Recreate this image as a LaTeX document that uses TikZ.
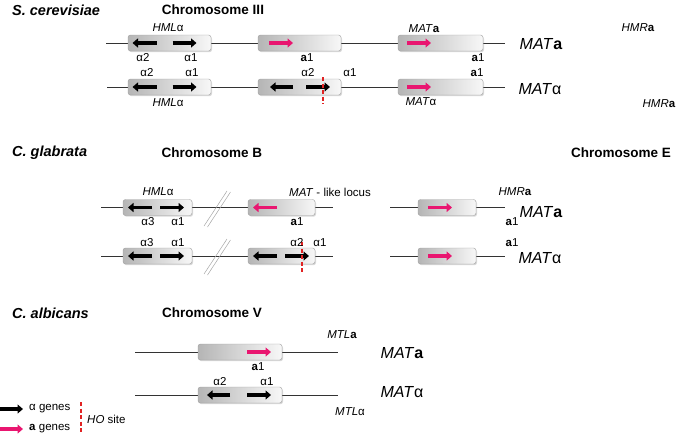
\documentclass[tikz,border=0pt]{standalone}
\usepackage{fontspec}
\setmainfont{Liberation Sans}
\usetikzlibrary{arrows.meta,shadows}
\definecolor{pinkg}{RGB}{233,22,112}
\definecolor{hored}{RGB}{225,35,35}
\begin{document}
\begin{tikzpicture}[x=1pt,y=-1pt,
  lbl/.style={font=\fontsize{11.5}{12}\selectfont, inner sep=0pt},
  big/.style={font=\fontsize{16}{18}\selectfont, inner sep=0pt},
  ttl/.style={font=\fontsize{13.5}{15}\selectfont\bfseries, inner sep=0pt},
  sp/.style={font=\fontsize{14.5}{16}\selectfont\bfseries\itshape, inner sep=0pt, anchor=west},
  chrom/.style={draw=black!80, line width=1pt},
  gbox/.style={draw=gray!75, rounded corners=2.5pt, left color=gray!58, right color=gray!6, minimum height=16pt, inner sep=0pt, drop shadow={shadow xshift=1pt, shadow yshift=-1.2pt, opacity=0.3}},
  agene/.style={line width=3.8pt, black, -{Triangle[length=5.5pt,width=9pt]}},
  pgene/.style={line width=3.8pt, pinkg, -{Triangle[length=5.5pt,width=9pt]}},
  hosite/.style={hored, line width=1.6pt, dash pattern=on 4pt off 2.5pt},
  brk/.style={draw=gray!70, line width=0.5pt},
]
\useasboundingbox (0,0) rectangle (676,437);

% ---------------- S. cerevisiae ----------------
\node[sp] (tsc) at (12,10) {S. cerevisiae};
\node[ttl] (tc3) at (213,10) {Chromosome III};

% row 1
\coordinate (s1a) at (106,43); \coordinate (s1b) at (505,43);
\draw[chrom] (s1a) -- (s1b);
\node[gbox, minimum width=83pt] (s1hml) at (169.5,43) {};
\node[gbox, minimum width=83pt] (s1mid) at (299.5,43) {};
\node[gbox, minimum width=85pt] (s1mat) at (440.5,43) {};
\draw[agene] (156.5,43) -- (132.5,43);
\draw[agene] (172.5,43) -- (196.5,43);
\draw[pgene] (269,43) -- (293,43);
\draw[pgene] (407,43) -- (431,43);
\node[lbl] (l1) at (168,28) {\textit{HML}α};
\node[lbl] (l2) at (143,58) {α2};
\node[lbl] (l3) at (191,58) {α1};
\node[lbl] (l4) at (307,58) {\textbf{a}1};
\node[lbl] (l5) at (424,29) {\textit{MAT}\textbf{a}};
\node[lbl] (l6) at (478,58) {\textbf{a}1};
\node[big] (l7) at (541,44) {\textit{MAT}\textbf{a}};
\node[lbl] (l8) at (638,28) {\textit{HMR}\textbf{a}};

% row 2
\coordinate (s2a) at (107,87); \coordinate (s2b) at (505,87);
\draw[chrom] (s2a) -- (s2b);
\node[gbox, minimum width=83pt] (s2hml) at (169.5,87) {};
\node[gbox, minimum width=83pt] (s2mid) at (299.5,87) {};
\node[gbox, minimum width=85pt] (s2mat) at (440.5,87) {};
\draw[agene] (156.5,87) -- (132.5,87);
\draw[agene] (172.5,87) -- (196.5,87);
\draw[agene] (293,87) -- (270,87);
\draw[agene] (306,87) -- (330,87);
\draw[pgene] (407,87) -- (431,87);
\coordinate (ho1a) at (323,77); \coordinate (ho1b) at (323,104);
\draw[hosite] (ho1a) -- (ho1b);
\node[lbl] (m1) at (147,73) {α2};
\node[lbl] (m2) at (192,73) {α1};
\node[lbl] (m3) at (308,73) {α2};
\node[lbl] (m4) at (350,73) {α1};
\node[lbl] (m5) at (477,73) {\textbf{a}1};
\node[lbl] (m6) at (168,103) {\textit{HML}α};
\node[lbl] (m7) at (421,102) {\textit{MAT}α};
\node[big] (m8) at (540,89) {\textit{MAT}α};
\node[lbl] (m9) at (659,104) {\textit{HMR}\textbf{a}};

% ---------------- C. glabrata ----------------
\node[sp] (tcg) at (12,153) {C. glabrata};
\node[ttl] (tcb) at (212,153) {Chromosome B};
\node[ttl] (tce) at (621,153) {Chromosome E};

% row 1
\coordinate (g1a) at (101,207.5); \coordinate (g1b) at (333,207.5);
\draw[chrom] (g1a) -- (g1b);
\draw[brk] (204,226) -- (227,191);
\draw[brk] (207.5,227) -- (230.5,192);
\node[gbox, minimum width=69pt] (g1hml) at (157.5,207.5) {};
\node[gbox, minimum width=67pt] (g1mat) at (281.5,207.5) {};
\draw[agene] (152,207.5) -- (128,207.5);
\draw[agene] (160,207.5) -- (184,207.5);
\draw[pgene] (277,207.5) -- (253,207.5);
\node[lbl] (n1) at (158,192) {\textit{HML}α};
\node[lbl] (n2) at (148,222) {α3};
\node[lbl] (n3) at (178,222) {α1};
\node[lbl] (n4) at (330,192) {\textit{MAT} - like locus};
\node[lbl] (n5) at (297,222) {\textbf{a}1};

\coordinate (e1a) at (390,207.5); \coordinate (e1b) at (505,207.5);
\draw[chrom] (e1a) -- (e1b);
\node[gbox, minimum width=58pt] (e1box) at (447,207.5) {};
\draw[pgene] (428,207.5) -- (452,207.5);
\node[lbl] (n6) at (515,192) {\textit{HMR}\textbf{a}};
\node[lbl] (n7) at (512,222) {\textbf{a}1};
\node[big] (n8) at (541,212) {\textit{MAT}\textbf{a}};

% row 2
\coordinate (g2a) at (101,256); \coordinate (g2b) at (333,256);
\draw[chrom] (g2a) -- (g2b);
\draw[brk] (204,274) -- (227,239);
\draw[brk] (207.5,275) -- (230.5,240);
\node[gbox, minimum width=69pt] (g2hml) at (157.5,256) {};
\node[gbox, minimum width=67pt] (g2mat) at (281.5,256) {};
\draw[agene] (152,256) -- (128,256);
\draw[agene] (160,256) -- (184,256);
\draw[agene] (277,256) -- (253,256);
\draw[agene] (285,256) -- (309,256);
\coordinate (ho2a) at (302,242); \coordinate (ho2b) at (302,273);
\draw[hosite] (ho2a) -- (ho2b);
\node[lbl] (o1) at (147,243) {α3};
\node[lbl] (o2) at (178,243) {α1};
\node[lbl] (o3) at (297,243) {α2};
\node[lbl] (o4) at (320,243) {α1};

\coordinate (e2a) at (390,256); \coordinate (e2b) at (505,256);
\draw[chrom] (e2a) -- (e2b);
\node[gbox, minimum width=58pt] (e2box) at (447,256) {};
\draw[pgene] (428,256) -- (452,256);
\node[lbl] (o5) at (512,243) {\textbf{a}1};
\node[big] (o6) at (540,258) {\textit{MAT}α};

% ---------------- C. albicans ----------------
\node[sp] (tca) at (12,313) {C. albicans};
\node[ttl] (tcv) at (212,313) {Chromosome V};

\coordinate (c1a) at (135,352); \coordinate (c1b) at (338,352);
\draw[chrom] (c1a) -- (c1b);
\node[gbox, minimum width=84pt] (c1box) at (240,352) {};
\draw[pgene] (247,352) -- (271,352);
\node[lbl] (p1) at (258,367) {\textbf{a}1};
\node[lbl] (p2) at (342,335) {\textit{MTL}\textbf{a}};
\node[big] (p3) at (402,353) {\textit{MAT}\textbf{a}};

\coordinate (c2a) at (135,395); \coordinate (c2b) at (338,395);
\draw[chrom] (c2a) -- (c2b);
\node[gbox, minimum width=84pt] (c2box) at (240,395) {};
\draw[agene] (230,395) -- (207,395);
\draw[agene] (247,395) -- (271,395);
\node[lbl] (q1) at (220,382) {α2};
\node[lbl] (q2) at (267,382) {α1};
\node[lbl] (q3) at (350,412) {\textit{MTL}α};
\node[big] (q4) at (402,392) {\textit{MAT}α};

% ---------------- legend ----------------
\draw[agene] (0,409) -- (23,409);
\node[lbl, anchor=west] (r1) at (29,409) {α genes};
\draw[pgene] (0,429) -- (23,429);
\node[lbl, anchor=west] (r2) at (29,429) {\textbf{a} genes};
\coordinate (ho3a) at (81,402); \coordinate (ho3b) at (81,433);
\draw[hosite] (ho3a) -- (ho3b);
\node[lbl, anchor=west] (r3) at (87,419) {\textit{HO} site};
\end{tikzpicture}
\end{document}
